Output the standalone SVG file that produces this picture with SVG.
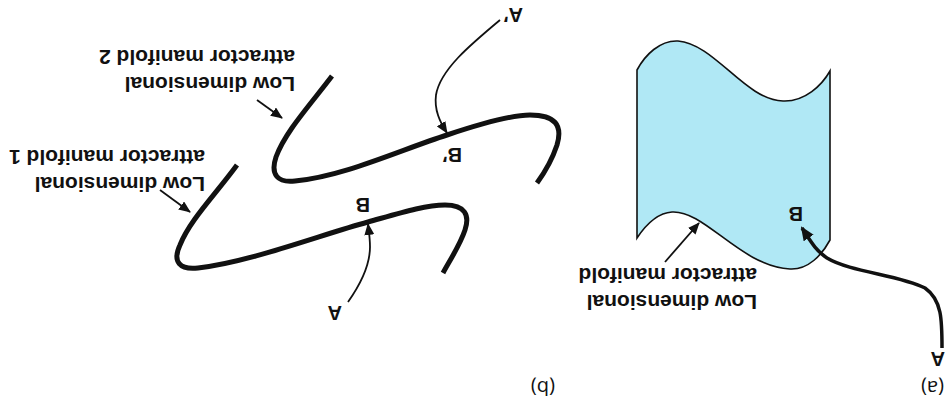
<svg xmlns="http://www.w3.org/2000/svg" width="945" height="405" viewBox="0 0 945 405">
<style>
.lbl{font-family:"Liberation Sans",Arial,sans-serif;font-weight:bold;font-size:21px;fill:#111}
.pt{font-family:"Liberation Sans",Arial,sans-serif;font-weight:bold;font-size:20px;fill:#111}
.cap{font-family:"Open Sans","Liberation Sans",Arial,sans-serif;font-size:20px;fill:#111}
.man{fill:none;stroke:#111;stroke-width:5;stroke-linecap:butt}
.thin{fill:none;stroke:#111;stroke-width:1.8}
.thick{fill:none;stroke:#111;stroke-width:3.5}
</style>
<defs>
<marker id="ah" markerUnits="userSpaceOnUse" markerWidth="12" markerHeight="10" refX="11" refY="5" orient="auto">
<path d="M0,0 L12,5 L0,10 Z" fill="#111"/>
</marker>
<marker id="ahb" markerUnits="userSpaceOnUse" markerWidth="14" markerHeight="12" refX="12" refY="6" orient="auto">
<path d="M0,0 L14,6 L0,12 Z" fill="#111"/>
</marker>
</defs>
<rect width="945" height="405" fill="#fff"/>

<g id="manifold-a">
<path d="M637,70 C645,55 660,40 678,41 C715,44 745,100 783,101 C805,102 822,85 830,71 L830,240 C822,255 808,270 790,269 C740,266 705,210 672,212 C656,213 645,226 637,238 Z" fill="#b0e8f5" stroke="#111" stroke-width="1.6"/>
<text class="lbl" x="757" y="295" transform="rotate(180 757 295)">Low dimensional</text>
<text class="lbl" x="757" y="268" transform="rotate(180 757 268)">attractor manifold</text>
<text class="pt" x="803" y="207" transform="rotate(180 803 207)">B</text>
<text class="pt" x="945" y="352" transform="rotate(180 945 352)">A</text>
<text class="cap" x="944" y="381" transform="rotate(180 944 381)">(a)</text>
</g>

<g id="manifold-1">
<path class="man" d="M237,165 C215,195 190,220 180,245 C172,262 180,270 198,268 C250,262 320,235 368,222 C400,213 425,205 445,205 C465,205 470,215 465,230 C460,245 450,260 443,273"/>
<text class="lbl" x="205" y="177" transform="rotate(180 205 177)">Low dimensional</text>
<text class="lbl" x="205" y="150" transform="rotate(180 205 150)">attractor manifold 1</text>
<text class="pt" x="370" y="198" transform="rotate(180 370 198)">B</text>
<text class="pt" x="342" y="306" transform="rotate(180 342 306)">A</text>
</g>

<g id="manifold-2">
<path class="man" d="M332,76 C310,105 285,132 276,157 C270,175 278,183 295,181 C345,176 400,150 447,135 C480,124 510,115 530,115 C555,115 563,125 557,145 C552,160 545,172 537,183"/>
<text class="lbl" x="295" y="77" transform="rotate(180 295 77)">Low dimensional</text>
<text class="lbl" x="295" y="50" transform="rotate(180 295 50)">attractor manifold 2</text>
<text class="pt" x="462" y="148" transform="rotate(180 462 148)">B′</text>
<text class="pt" x="523" y="8" transform="rotate(180 523 8)">A′</text>
<text class="cap" x="555" y="381" transform="rotate(180 555 381)">(b)</text>
</g>

<g id="connectors">
<path class="thick" d="M942,348 C942,320 942,300 925,288 C900,275 850,272 827,258 C815,250 810,240 802,228" marker-end="url(#ahb)"/>
<path class="thin" d="M665,262 L699,223" marker-end="url(#ah)"/>
<path class="thin" d="M160,190 L190,212" marker-end="url(#ah)"/>
<path class="thin" d="M257,100 L282,118" marker-end="url(#ah)"/>
<path class="thin" d="M500,20 C470,45 440,70 436,95 C434,110 440,122 447,133" marker-end="url(#ah)"/>
<path class="thin" d="M348,302 C360,285 370,265 370,247 C370,238 369,232 368,224" marker-end="url(#ah)"/>
</g>
</svg>
